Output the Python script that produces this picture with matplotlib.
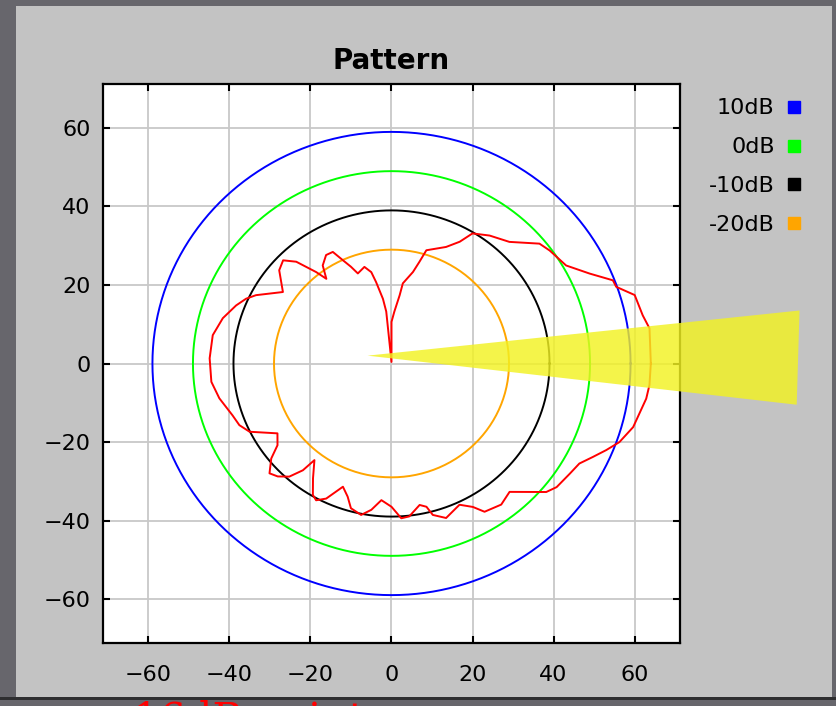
import numpy as np
import matplotlib.pyplot as plt
from matplotlib.lines import Line2D
from matplotlib.patches import Rectangle, Polygon

# reference circles (radius in plot units)
ring_labels = ['10dB', '0dB', '-10dB', '-20dB']
ring_radius = [59, 49, 39, 29]
ring_colors = ['#0000ff', '#00ff00', '#000000', '#ffa500']

# measured pattern, angle in degrees (ccw from +x), radius in plot units
pattern_deg = [0, 8.0, 11.2, 16.2, 19.4, 21.2, 25.1, 30.1, 36.4, 39.9, 46.8, 53.4, 58.9,
               61.5, 65.6, 73.4, 75.1, 77.2, 82.2, 83.4, 87.0, 90.0, 90.0, 95.6, 97.3,
               100.4, 102.1, 105.2, 109.9, 112.1, 114.5, 117.0, 120.3, 124.2, 126.7,
               128.6, 132.2, 135.5, 139.4, 145.8, 152.5, 155.3, 158.9, 164.5, 170.7,
               178.3, 186.0, 191.8, 198.6, 202.7, 206.4, 212.3, 216.5, 219.2, 222.9,
               225.7, 228.8, 231.2, 232.3, 236.5, 239.9, 241.9, 244.9, 249.1, 252.3,
               254.8, 259.0, 262.4, 265.9, 270.0, 273.5, 276.4, 280.9, 283.3, 284.8,
               288.9, 295.0, 298.8, 301.3, 307.0, 311.7, 319.4, 322.3, 327.5, 331.2,
               334.4, 337.4, 340.4, 344.8, 351.9, 355.1, 360.0]
pattern_r = [64.0, 64.3, 63.2, 62.5, 58.8, 58.6, 54.0, 49.8, 48.5, 47.6, 42.5, 40.6, 38.7,
             35.3, 32.6, 30.1, 26.8, 23.9, 20.6, 17.5, 13.2, 10.6, 0.4, 13.3, 16.6,
             21.1, 23.8, 25.5, 24.4, 26.6, 28.9, 31.9, 32.0, 30.2, 26.9,
             29.8, 35.0, 37.5, 36.5, 32.4, 37.7, 39.5, 41.1, 43.2, 44.7,
             44.9, 44.7, 43.4, 41.4, 40.7, 39.1, 33.3, 35.0, 38.3, 41.1,
             40.2, 38.3, 34.9, 31.1, 35.1, 38.7, 39.5, 38.0, 33.6, 35.6,
             38.2, 39.3, 37.6, 34.9, 36.5, 39.5, 39.2, 36.7, 37.5, 39.9,
             41.6, 39.7, 41.7, 44.2, 45.0, 43.8, 50.3, 51.5, 52.2, 52.9,
             55.1, 57.4, 59.7, 61.8, 63.5, 63.9, 64.0]

ticks = [-60, -40, -20, 0, 20, 40, 60]

# yellow beam overlay drawn on top of the screenshot
beam_x = [-5.9, 100.7, 100.0]
beam_y = [2.0, 13.5, -10.5]

fig = plt.figure(figsize=(8.37, 7.06), dpi=100, facecolor='#67666c')
fig.patches.append(Rectangle((16 / 837, 9 / 706), 816 / 837, 691 / 706,
                             transform=fig.transFigure, facecolor='#c3c3c3',
                             edgecolor='none', zorder=-2))
fig.patches.append(Rectangle((0, 6 / 706), 1, 3 / 706, transform=fig.transFigure,
                             facecolor='#2e2e30', edgecolor='none', zorder=-2))

ax = fig.add_axes([103 / 837, 63 / 706, 577 / 837, 559 / 706])
ax.set_facecolor('white')
ax.set_xlim(-71.2, 71.2)
ax.set_ylim(-71.2, 71.2)
ax.set_xticks(ticks)
ax.set_yticks(ticks)
ax.grid(True, color='#c8c8c8', linewidth=1.3)
ax.set_axisbelow(True)
ax.tick_params(direction='in', length=5, width=1.5, top=True, right=True,
               labelsize=16, colors='black')
ax.tick_params(axis='x', pad=16)
ax.tick_params(axis='y', pad=9)
for sp in ax.spines.values():
    sp.set_linewidth(1.6)
ax.set_title('Pattern', fontsize=20, fontweight='bold', pad=11)

t = np.linspace(0, 2 * np.pi, 361)
for r, c in zip(ring_radius, ring_colors):
    ax.plot(r * np.cos(t), r * np.sin(t), color=c, linewidth=1.4)

a = np.radians(pattern_deg)
pr = np.array(pattern_r)
ax.plot(pr * np.cos(a), pr * np.sin(a), color='#ff0000', linewidth=1.4)

handles = [Line2D([], [], linestyle='none', marker='s', markersize=8,
                  markerfacecolor=c, markeredgecolor=c) for c in ring_colors]
ax.legend(handles, ring_labels, loc='upper left', bbox_to_anchor=(1.025, 1.0),
          frameon=False, markerfirst=False, handlelength=0.6, handletextpad=0.55,
          labelspacing=0.85, fontsize=16, borderaxespad=0.25)

ax.add_patch(Polygon(list(zip(beam_x, beam_y)), closed=True, facecolor='#f2f222',
                     edgecolor='none', alpha=0.82, clip_on=False, zorder=10))

fig.text(133 / 837, 6 / 706, '16dB point', color='red', fontsize=30,
         family='DejaVu Serif', va='top')

fig.savefig('out.png', dpi=100, facecolor=fig.get_facecolor())
